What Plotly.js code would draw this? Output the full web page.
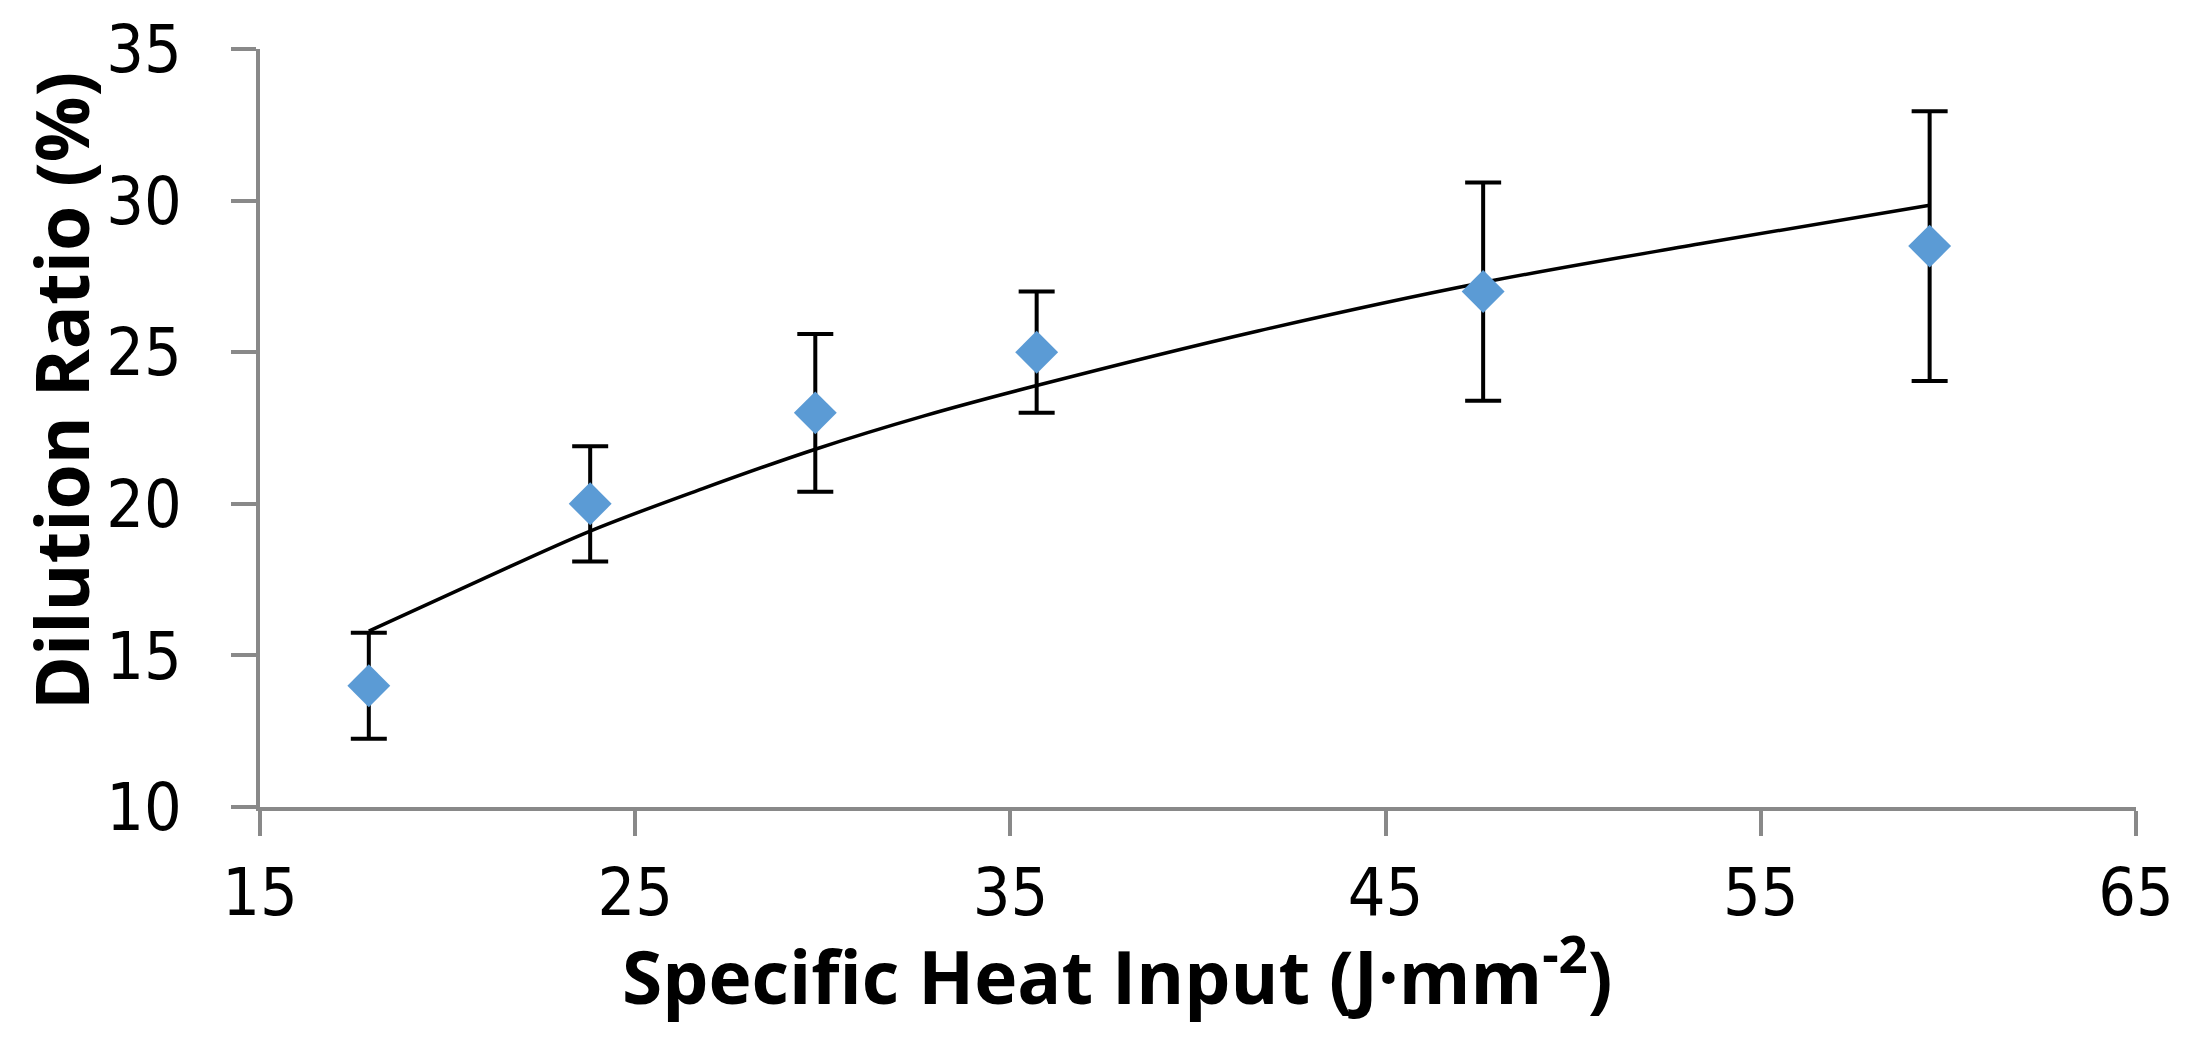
<!DOCTYPE html>
<html>
<head>
<meta charset="utf-8">
<script src="https://cdn.plot.ly/plotly-3.0.1.min.js"></script>
<style>
  html, body { margin: 0; padding: 0; background: #fff; }
  #chart { width: 2191px; height: 1039px; }
</style>
</head>
<body>
<div id="chart"></div>
<script>

// measured points
var heatInput = [17.9, 23.8, 29.8, 35.7, 47.6, 59.5];
var dilution  = [14.0, 20.0, 23.0, 25.0, 27.0, 28.5];
var errDil    = [1.75, 1.9, 2.6, 2.0, 3.6, 4.45];

// trend line
var trendX = [17.9, 20.9, 23.8, 26.8, 29.8, 32.7, 35.7, 41.6, 47.6, 53.5, 59.5];
var trendY = [15.8, 17.5, 19.1, 20.5, 21.8, 22.9, 23.9, 25.7, 27.3, 28.6, 29.85];

var xTicks = [15, 25, 35, 45, 55, 65];
var yTicks = [10, 15, 20, 25, 30, 35];

var axisGrey = '#898989';
var tickFont = {family: 'DejaVu Sans Condensed, DejaVu Sans, sans-serif', size: 66, color: '#000'};
var titleFont = {family: 'Open Sans, sans-serif', size: 73, color: '#000', weight: 'bold'};

var points = {
  x: heatInput,
  y: dilution,
  type: 'scatter',
  mode: 'markers',
  marker: {symbol: 'diamond', size: 33, color: '#5B9BD5'},
  error_y: {type: 'data', array: errDil, visible: true, color: '#000', thickness: 4, width: 18},
  showlegend: false
};

var trend = {
  x: trendX,
  y: trendY,
  type: 'scatter',
  mode: 'lines',
  line: {color: '#000', width: 3.5, shape: 'spline'},
  showlegend: false
};

var layout = {
  width: 2191,
  height: 1039,
  margin: {l: 260, r: 55, t: 49, b: 232},
  paper_bgcolor: '#fff',
  plot_bgcolor: '#fff',
  xaxis: {
    range: [15, 65],
    tickvals: xTicks,
    showgrid: false,
    zeroline: false,
    showline: true,
    linecolor: axisGrey,
    linewidth: 4,
    ticks: 'outside',
    ticklen: 25,
    tickwidth: 4,
    tickcolor: axisGrey,
    ticklabelstandoff: 0,
    tickfont: tickFont
  },
  yaxis: {
    range: [10, 35],
    tickvals: yTicks,
    showgrid: false,
    zeroline: false,
    showline: true,
    linecolor: axisGrey,
    linewidth: 4,
    ticks: 'outside',
    ticklen: 25,
    tickwidth: 4,
    tickcolor: axisGrey,
    ticklabelstandoff: 36,
    tickfont: tickFont
  },
  annotations: [
    {
      text: 'Specific Heat Input (J·mm<sup>-2</sup>)',
      xref: 'paper', yref: 'paper',
      x: 0.457, y: -0.217,
      xanchor: 'center', yanchor: 'middle',
      showarrow: false,
      font: titleFont
    },
    {
      text: 'Dilution Ratio (%)',
      xref: 'paper', yref: 'paper',
      x: -0.106, y: 0.549,
      xanchor: 'center', yanchor: 'middle',
      textangle: -90,
      showarrow: false,
      font: titleFont
    }
  ]
};

Plotly.newPlot('chart', [trend, points], layout, {displayModeBar: false, staticPlot: true});

</script>
</body>
</html>
